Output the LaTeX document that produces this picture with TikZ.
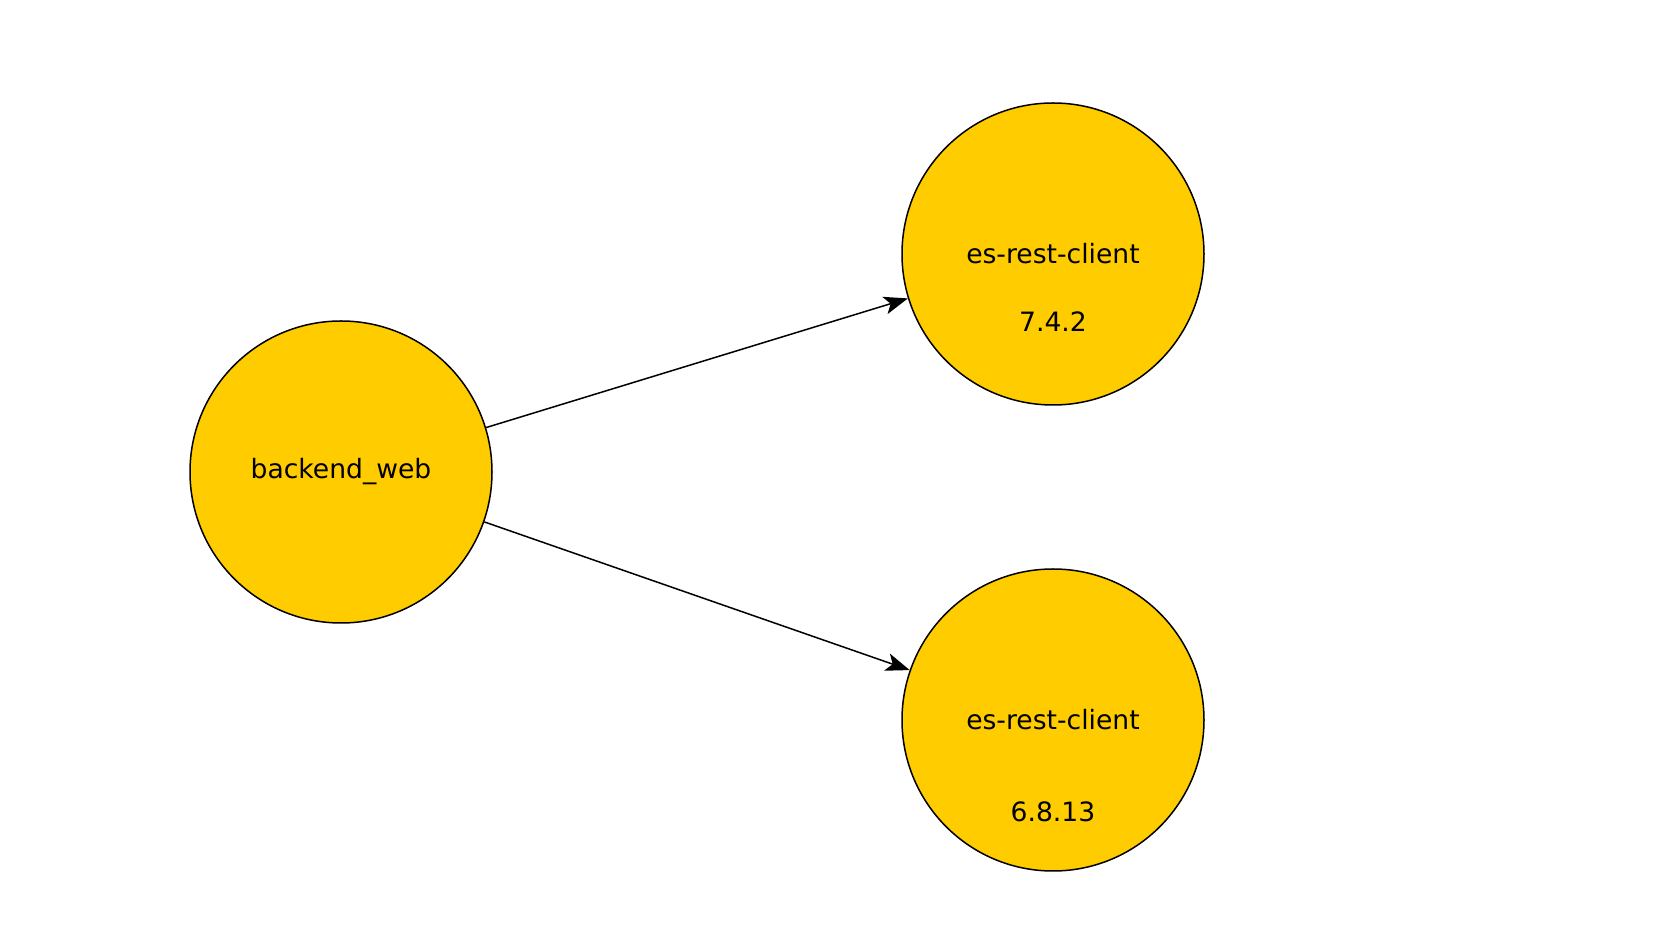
\documentclass[tikz,border=0pt]{standalone}
\usepackage{fontspec}
\setmainfont{DejaVu Sans}
\usetikzlibrary{arrows.meta, positioning}

\definecolor{pkgyellow}{HTML}{FFCC00}

\begin{document}
\begin{tikzpicture}[
    x=1pt, y=1pt,
    every node/.style={font=\fontsize{13.3}{16}\selectfont},
    pkg/.style={circle, draw, line width=0.75pt, fill=pkgyellow, minimum size=151pt, inner sep=0pt},
    version/.style={inner sep=1pt},
    arrow/.style={-{Stealth[length=12pt, width=9pt, inset=3pt]}, line width=0.75pt}
]

% fixed frame
\useasboundingbox (0, 0) rectangle (839, 466);

% Application
\node[pkg] (web) at (170.5, 230) {backend\_web};

% Client versions
\node[pkg] (client7) at (526.5, 339) {es-rest-client};
\node[version] (ver7) at ([yshift=-34pt]client7.center) {7.4.2};

\node[pkg] (client6) at (526.5, 106) {es-rest-client};
\node[version] (ver6) at ([yshift=-46pt]client6.center) {6.8.13};

% Dependencies
\draw[arrow] (web) -- (client7);
\draw[arrow] (web) -- (client6);

\end{tikzpicture}
\end{document}
